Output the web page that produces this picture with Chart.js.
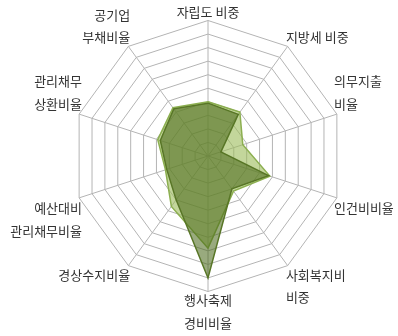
<!DOCTYPE html>
<html>
<head>
<meta charset="utf-8">
<script src="https://cdn.jsdelivr.net/npm/chart.js@4"></script>
<style>
  html, body { margin: 0; padding: 0; background: #fff; overflow: hidden; }
  #wrap { width: 420px; height: 356px; margin-left: -8px; margin-top: -10px; }
</style>
</head>
<body>
<div id="wrap"><canvas id="chart"></canvas></div>
<script>
const categories = [
    '자립도 비중',
    '지방세 비중',
    ['의무지출', '비율'],
    '인건비비율',
    ['사회복지비', '비중'],
    ['행사축제', '경비비율'],
    '경상수지비율',
    ['예산대비', '관리채무비율'],
    ['관리채무', '상환비율'],
    ['공기업', '부채비율']
];
const seriesLight = [4.0, 4.0, 2.7, 4.8, 3.2, 6.8, 4.6, 3.3, 3.9, 4.4];
const seriesDark = [3.9, 3.8, 1.0, 4.7, 3.0, 9.0, 4.0, 3.2, 3.7, 4.3];

const graph = document.querySelector('#chart');

// dataset 0 is drawn on top in chart.js, so the dark one goes first
const data_graph = {
    labels: categories,
    datasets: [
        {
            label: 'B',
            data: seriesDark,
            backgroundColor: 'rgba(70,100,20,0.55)',
            borderColor: 'rgb(88,118,38)',
            borderWidth: 1.5,
            pointRadius: 0
        },
        {
            label: 'A',
            data: seriesLight,
            backgroundColor: 'rgba(155,187,89,0.6)',
            borderColor: 'rgb(140,175,80)',
            borderWidth: 1.5,
            pointRadius: 0
        }
    ]
};

new Chart(graph, {
    type: 'radar',
    data: data_graph,
    options: {
        responsive: true,
        maintainAspectRatio: false,
        animation: false,
        plugins: {
            legend: { display: false },
            tooltip: { enabled: false }
        },
        scales: {
            r: {
                min: 0,
                max: 10,
                ticks: { display: false, stepSize: 1 },
                grid: { color: '#b4b4b4', lineWidth: 1 },
                angleLines: { color: '#b4b4b4', lineWidth: 1 },
                pointLabels: {
                    color: '#333',
                    padding: -3,
                    font: { family: "'Noto Sans CJK KR'", size: 13, lineHeight: 1.75 }
                }
            }
        }
    }
});
</script>
</body>
</html>
